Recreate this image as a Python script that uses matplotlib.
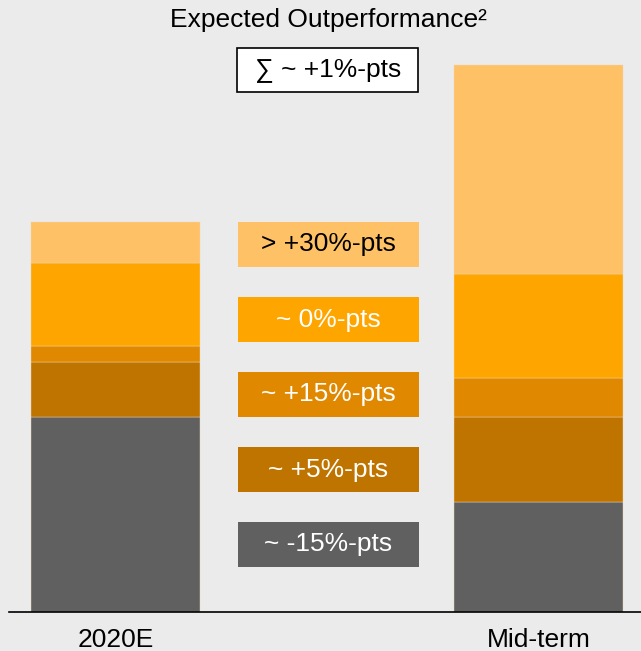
import numpy as np
import matplotlib.pyplot as plt
from matplotlib.patches import Rectangle

plt.rcParams['font.family'] = ['Liberation Sans', 'DejaVu Sans']

categories = ['2020E', 'Mid-term']
# stacked segment heights, bottom to top (relative units)
seg_labels = ['~ -15%-pts', '~ +5%-pts', '~ +15%-pts', '~ 0%-pts', '> +30%-pts']
seg_2020 = [195, 55, 16, 83, 41]
seg_mid = [110, 85, 39, 104, 209]
colors = ['#606060', '#C07400', '#E08800', '#FFA500', '#FFC166']
label_colors = ['white', 'white', 'white', 'white', 'black']
total_label = '\u2211 ~ +1%-pts'

bg = '#EBEBEB'
fig = plt.figure(figsize=(6.41, 6.51), dpi=100, facecolor=bg)
ax = fig.add_axes([0, 0, 1, 1])
ax.set_facecolor(bg)
ax.set_xlim(-0.273, 1.242)
ax.set_ylim(-39, 612)
ax.axis('off')

x = np.arange(len(categories))
values = np.array([seg_2020, seg_mid])
bottoms = np.zeros(len(categories))
for i in range(len(seg_labels)):
    ax.bar(x, values[:, i], bottom=bottoms, width=0.4, color=colors[i],
           edgecolor='#f0d8b0', linewidth=0.3)
    bottoms += values[:, i]

# baseline
ax.plot([-0.252, 1.242], [0, 0], color='black', lw=1.2, clip_on=False)

for xi, cat in zip(x, categories):
    ax.text(xi, -28, cat, ha='center', va='center', fontsize=19)

# legend-style boxes in the middle (top to bottom)
box_tops = [390, 315, 240, 165, 90]
for j, top in enumerate(box_tops):
    i = len(seg_labels) - 1 - j
    ax.bar(0.503, 45, bottom=top - 45, width=0.428, color=colors[i])
    ax.text(0.503, top - 22.5, seg_labels[i], ha='center', va='center',
            fontsize=19, color=label_colors[i])

ax.add_patch(Rectangle((0.287, 520), 0.428, 44, fc='white', ec='black', lw=1.2))
ax.text(0.503, 542, total_label, ha='center', va='center', fontsize=19)
ax.text(0.503, 592, 'Expected Outperformance\u00b2', ha='center', va='center',
        fontsize=19)

fig.savefig('out.png', dpi=100, facecolor=bg)
